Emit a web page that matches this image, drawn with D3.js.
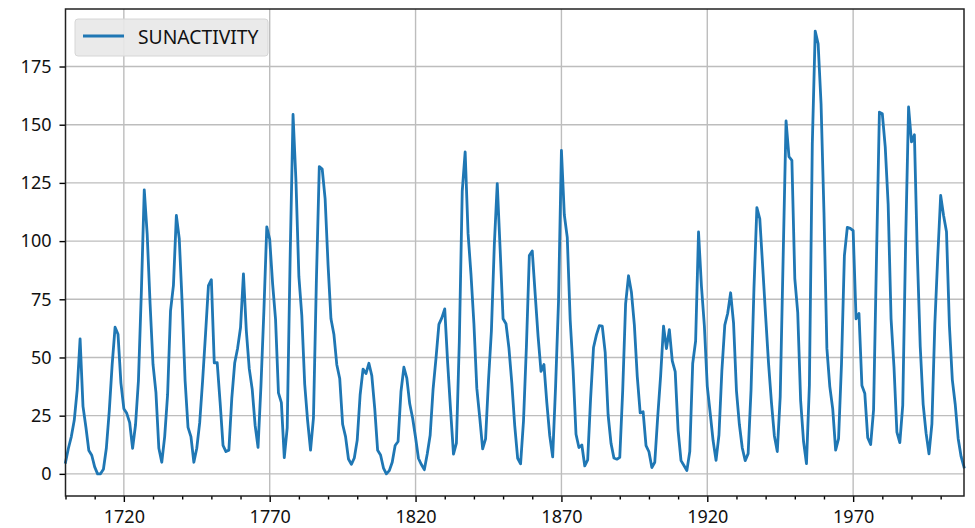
<!DOCTYPE html>
<html>
<head>
<meta charset="utf-8">
<script src="https://cdn.jsdelivr.net/npm/d3@7"></script>
<style>
  body { margin: 0; background: #fff; }
  svg text { font-family: "Noto Sans", "DejaVu Sans", sans-serif; }
</style>
</head>
<body>
<div id="chart"></div>
<script>
// yearly sunspot numbers, 1700-2008
const startYear = 1700;
const sunactivity = [
  5.0, 11.0, 16.0, 23.0, 36.0, 58.0, 29.0, 20.0, 10.0, 8.0,
  3.0, 0.0, 0.0, 2.0, 11.0, 27.0, 47.0, 63.0, 60.0, 39.0,
  28.0, 26.0, 22.0, 11.0, 21.0, 40.0, 78.0, 122.0, 103.0, 73.0,
  47.0, 35.0, 11.0, 5.0, 16.0, 34.0, 70.0, 81.0, 111.0, 101.0,
  73.0, 40.0, 20.0, 16.0, 5.0, 11.0, 22.0, 40.0, 60.0, 80.9,
  83.4, 47.7, 47.8, 30.7, 12.2, 9.6, 10.2, 32.4, 47.6, 54.0,
  62.9, 85.9, 61.2, 45.1, 36.4, 20.9, 11.4, 37.8, 69.8, 106.1,
  100.8, 81.6, 66.5, 34.8, 30.6, 7.0, 19.8, 92.5, 154.4, 125.9,
  84.8, 68.1, 38.5, 22.8, 10.2, 24.1, 82.9, 132.0, 130.9, 118.1,
  89.9, 66.6, 60.0, 46.9, 41.0, 21.3, 16.0, 6.4, 4.1, 6.8,
  14.5, 34.0, 45.0, 43.1, 47.5, 42.2, 28.1, 10.1, 8.1, 2.5,
  0.0, 1.4, 5.0, 12.2, 13.9, 35.4, 45.8, 41.1, 30.1, 23.9,
  15.6, 6.6, 4.0, 1.8, 8.5, 16.6, 36.3, 49.6, 64.2, 67.0,
  70.9, 47.8, 27.5, 8.5, 13.2, 56.9, 121.5, 138.3, 103.2, 85.7,
  64.6, 36.7, 24.2, 10.7, 15.0, 40.1, 61.5, 98.5, 124.7, 96.3,
  66.6, 64.5, 54.1, 39.0, 20.6, 6.7, 4.3, 22.7, 54.8, 93.8,
  95.8, 77.2, 59.1, 44.0, 47.0, 30.5, 16.3, 7.3, 37.6, 74.0,
  139.0, 111.2, 101.6, 66.2, 44.7, 17.0, 11.3, 12.4, 3.4, 6.0,
  32.3, 54.3, 59.7, 63.7, 63.5, 52.2, 25.4, 13.1, 6.8, 6.3,
  7.1, 35.6, 73.0, 85.1, 78.0, 64.0, 41.8, 26.2, 26.7, 12.1,
  9.5, 2.7, 5.0, 24.4, 42.0, 63.5, 53.8, 62.0, 48.5, 43.9,
  18.6, 5.7, 3.6, 1.4, 9.6, 47.4, 57.1, 103.9, 80.6, 63.6,
  37.6, 26.1, 14.2, 5.8, 16.7, 44.3, 63.9, 69.0, 77.8, 64.9,
  35.7, 21.2, 11.1, 5.7, 8.7, 36.1, 79.7, 114.4, 109.6, 88.8,
  67.8, 47.5, 30.6, 16.3, 9.6, 33.2, 92.6, 151.6, 136.3, 134.7,
  83.9, 69.4, 31.5, 13.9, 4.4, 38.0, 141.7, 190.2, 184.8, 159.0,
  112.3, 53.9, 37.5, 27.9, 10.2, 15.1, 47.0, 93.8, 105.9, 105.5,
  104.5, 66.6, 68.9, 38.0, 34.5, 15.5, 12.6, 27.5, 92.5, 155.4,
  154.7, 140.5, 115.9, 66.6, 45.9, 17.9, 13.4, 29.4, 100.2, 157.6,
  142.6, 145.7, 94.3, 54.6, 29.9, 17.5, 8.6, 21.5, 64.3, 93.3,
  119.6, 111.0, 104.0, 63.7, 40.4, 29.8, 15.2, 7.5, 2.9
];
const years = sunactivity.map((d, i) => startYear + i);
const xMajorTicks = [1720, 1770, 1820, 1870, 1920, 1970];
const xMinorTicks = d3.range(1700, 2009, 10);
const yTicks = [0, 25, 50, 75, 100, 125, 150, 175];
const seriesName = 'SUNACTIVITY';

const width = 975, height = 528;
const margin = {top: 9, right: 11, bottom: 32, left: 65.5};
const innerW = width - margin.left - margin.right;
const innerH = height - margin.top - margin.bottom;

const svg = d3.select('#chart').append('svg')
  .attr('width', width)
  .attr('height', height);

const yMax = d3.max(sunactivity);
const pad = yMax * 0.05;

const x = d3.scaleLinear()
  .domain([years[0], years[years.length - 1]])
  .range([0, innerW]);
const y = d3.scaleLinear()
  .domain([-pad, yMax + pad])
  .range([innerH, 0]);

const g = svg.append('g')
  .attr('transform', `translate(${margin.left},${margin.top})`);

// grid
g.append('g').selectAll('line.gx')
  .data(xMajorTicks).enter().append('line')
  .attr('x1', d => x(d)).attr('x2', d => x(d))
  .attr('y1', 0).attr('y2', innerH)
  .attr('stroke', '#bdbdbd').attr('stroke-width', 1.4);
g.append('g').selectAll('line.gy')
  .data(yTicks).enter().append('line')
  .attr('x1', 0).attr('x2', innerW)
  .attr('y1', d => y(d)).attr('y2', d => y(d))
  .attr('stroke', '#bdbdbd').attr('stroke-width', 1.4);

// line
const line = d3.line()
  .x((d, i) => x(years[i]))
  .y(d => y(d));
g.append('path')
  .datum(sunactivity)
  .attr('fill', 'none')
  .attr('stroke', '#1f77b4')
  .attr('stroke-width', 2.8)
  .attr('stroke-linejoin', 'round')
  .attr('stroke-linecap', 'square')
  .attr('d', line);

// axes
const xAxis = d3.axisBottom(x)
  .tickValues(xMajorTicks)
  .tickFormat(d3.format('d'))
  .tickSize(6).tickPadding(8);
const xMinor = d3.axisBottom(x)
  .tickValues(xMinorTicks.filter(d => !xMajorTicks.includes(d)))
  .tickFormat('')
  .tickSize(3.5);
const yAxis = d3.axisLeft(y)
  .tickValues(yTicks)
  .tickSize(6).tickPadding(8);

const gx = g.append('g').attr('transform', `translate(0,${innerH})`).call(xAxis);
const gxm = g.append('g').attr('transform', `translate(0,${innerH})`).call(xMinor);
const gy = g.append('g').call(yAxis);
[gx, gxm, gy].forEach(a => {
  a.select('.domain').remove();
  a.selectAll('line').attr('stroke', '#000').attr('stroke-width', 1.4);
  a.selectAll('text').attr('fill', '#111').style('font-size', '18px');
});

// frame
g.append('rect')
  .attr('width', innerW).attr('height', innerH)
  .attr('fill', 'none').attr('stroke', '#222').attr('stroke-width', 1.5);

// legend
const legend = g.append('g').attr('transform', 'translate(9.5,10)');
legend.append('rect')
  .attr('width', 193).attr('height', 37).attr('rx', 3)
  .attr('fill', '#e8e8e8').attr('fill-opacity', 0.9)
  .attr('stroke', '#d6d6d6');
legend.append('line')
  .attr('x1', 8).attr('x2', 49).attr('y1', 17).attr('y2', 17)
  .attr('stroke', '#1f77b4').attr('stroke-width', 2.8);
legend.append('text')
  .attr('x', 63).attr('y', 24.5)
  .attr('fill', '#111')
  .style('font-size', '19.3px')
  .text(seriesName);
</script>
</body>
</html>
